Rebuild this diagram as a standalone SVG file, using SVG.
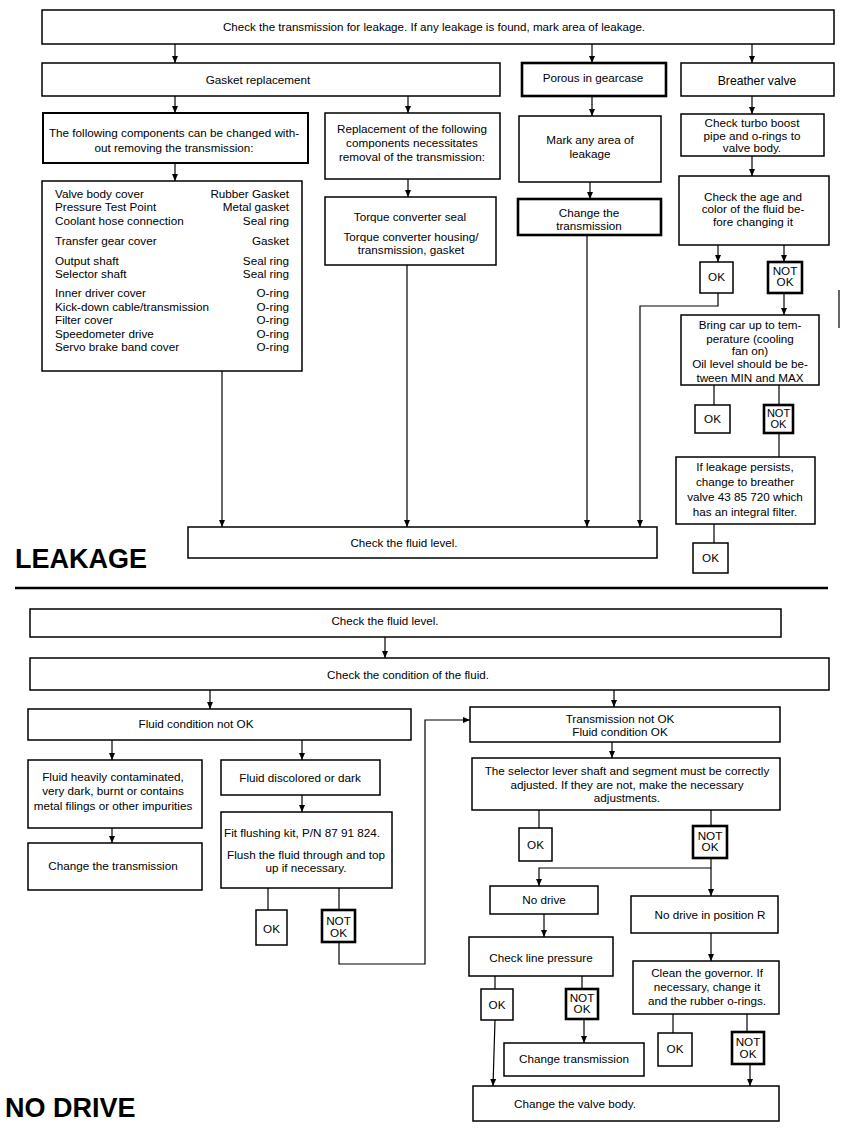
<svg xmlns="http://www.w3.org/2000/svg" width="842" height="1130" viewBox="0 0 842 1130">
<style>
.b{fill:#fff;stroke:#000;stroke-width:1.5}
.k{fill:#fff;stroke:#000;stroke-width:2.6}
text{font-family:"Liberation Sans",Arial,Helvetica,sans-serif;font-size:11.7px;fill:#000;text-anchor:middle}
.s{font-size:11.6px}
.n{font-size:11px}
.l{text-anchor:start}
.r{text-anchor:end}
.h{font-size:27px;font-weight:bold;text-anchor:start}
.c{fill:none;stroke:#000;stroke-width:1.2}
.a{marker-end:url(#ah)}
</style>
<defs>
<marker id="ah" markerWidth="7" markerHeight="7" refX="7" refY="3.5" orient="auto" markerUnits="userSpaceOnUse">
<path d="M0,0.5 L7,3.5 L0,6.5 z" fill="#000"/>
</marker>
</defs>
<rect width="842" height="1130" fill="#fff"/>

<!-- LEAKAGE section -->
<g id="leak-start"><rect class="b" x="42" y="10" width="792" height="34"/><text class="s" x="434" y="31">Check the transmission for leakage. If any leakage is found, mark area of leakage.</text></g>
<g id="gasket"><rect class="b" x="42" y="63" width="458" height="33"/><text x="258" y="84">Gasket replacement</text></g>
<g id="porous"><rect class="k" x="522" y="63" width="144" height="33"/><text x="593" y="82">Porous in gearcase</text></g>
<g id="breather"><rect class="b" x="681" y="63" width="153" height="33"/><text x="757" y="85" style="font-size:12.2px">Breather valve</text></g>
<g id="following"><rect class="b" x="43" y="113" width="265" height="50" style="stroke-width:2"/><text x="174" y="137">The following components can be changed with-</text><text x="174" y="152">out removing the transmission:</text></g>
<g id="list"><rect class="b" x="42" y="181" width="260" height="190"/>
<text class="l" x="55" y="198">Valve body cover</text><text class="r" x="289" y="198">Rubber Gasket</text>
<text class="l" x="55" y="211">Pressure Test Point</text><text class="r" x="289" y="211">Metal gasket</text>
<text class="l" x="55" y="225">Coolant hose connection</text><text class="r" x="289" y="225">Seal ring</text>
<text class="l" x="55" y="245">Transfer gear cover</text><text class="r" x="289" y="245">Gasket</text>
<text class="l" x="55" y="265">Output shaft</text><text class="r" x="289" y="265">Seal ring</text>
<text class="l" x="55" y="278">Selector shaft</text><text class="r" x="289" y="278">Seal ring</text>
<text class="l" x="55" y="297">Inner driver cover</text><text class="r" x="289" y="297">O-ring</text>
<text class="l" x="55" y="311">Kick-down cable/transmission</text><text class="r" x="289" y="311">O-ring</text>
<text class="l" x="55" y="324">Filter cover</text><text class="r" x="289" y="324">O-ring</text>
<text class="l" x="55" y="338">Speedometer drive</text><text class="r" x="289" y="338">O-ring</text>
<text class="l" x="55" y="351">Servo brake band cover</text><text class="r" x="289" y="351">O-ring</text>
</g>
<g id="replacement"><rect class="b" x="325" y="113" width="175" height="66"/><text x="412" y="133">Replacement of the following</text><text x="412" y="147">components necessitates</text><text x="412" y="161">removal of the transmission:</text></g>
<g id="torque"><rect class="b" x="325" y="197" width="171" height="68"/><text x="410" y="221">Torque converter seal</text><text x="411" y="241">Torque converter housing/</text><text x="411" y="254">transmission, gasket</text></g>
<g id="mark"><rect class="b" x="519" y="116" width="142" height="66"/><text x="590" y="144">Mark any area of</text><text x="590" y="158">leakage</text></g>
<g id="change-trans-1"><rect class="k" x="518" y="199" width="143" height="36"/><text x="589" y="217">Change the</text><text x="589" y="230">transmission</text></g>
<g id="turbo"><rect class="b" x="681" y="114" width="143" height="42"/><text x="752" y="127">Check turbo boost</text><text x="752" y="139.5">pipe and o-rings to</text><text x="752" y="152">valve body.</text></g>
<g id="age"><rect class="b" x="679" y="176" width="150" height="69"/><text x="753" y="201">Check the age and</text><text x="753" y="213">color of the fluid be-</text><text x="753" y="226">fore changing it</text></g>
<g id="ok-1"><rect class="b" x="700" y="262" width="33" height="31"/><text x="716.5" y="281">OK</text></g>
<g id="notok-1"><rect class="k" x="768" y="262" width="34" height="31"/><text x="785" y="275">NOT</text><text x="785" y="286">OK</text></g>
<g id="bringcar"><rect class="b" x="681" y="315" width="138" height="70"/><text x="750" y="329">Bring car up to tem-</text><text x="750" y="343">perature (cooling</text><text x="750" y="355">fan on)</text><text x="750" y="368">Oil level should be be-</text><text x="750" y="382">tween MIN and MAX</text></g>
<g id="ok-2"><rect class="b" x="695" y="405" width="35" height="28"/><text x="712.5" y="423">OK</text></g>
<g id="notok-2"><rect class="k" x="764" y="405" width="29" height="28"/><text class="n" x="778.5" y="417">NOT</text><text class="n" x="778.5" y="428">OK</text></g>
<g id="persists"><rect class="b" x="676" y="457" width="139" height="67"/><text x="745" y="471">If leakage persists,</text><text x="745" y="486">change to breather</text><text x="745" y="501">valve 43 85 720 which</text><text x="745" y="516">has an integral filter.</text></g>
<g id="ok-3"><rect class="b" x="693" y="543" width="35" height="30"/><text x="710.5" y="562">OK</text></g>
<g id="fluid-level-1"><rect class="b" x="188" y="527" width="469" height="31"/><text class="s" x="404" y="547">Check the fluid level.</text></g>
<g id="title-leakage"><text class="h" x="15" y="568">LEAKAGE</text></g>
<line x1="15" y1="588" x2="828" y2="588" stroke="#000" stroke-width="2.5"/>
<line x1="839" y1="290" x2="839" y2="328" stroke="#000" stroke-width="1.2"/>

<!-- NO DRIVE section -->
<g id="fluid-level-2"><rect class="b" x="30" y="609" width="751" height="28"/><text class="s" x="385" y="625">Check the fluid level.</text></g>
<g id="condition"><rect class="b" x="30" y="658" width="799" height="32"/><text class="s" x="408" y="679">Check the condition of the fluid.</text></g>
<g id="fluid-notok"><rect class="b" x="28" y="709" width="383" height="31"/><text x="196" y="728">Fluid condition not OK</text></g>
<g id="contaminated"><rect class="b" x="28" y="760" width="174" height="68"/><text x="113" y="781">Fluid heavily contaminated,</text><text x="113" y="795">very dark, burnt or contains</text><text x="113" y="810">metal filings or other impurities</text></g>
<g id="change-trans-2"><rect class="b" x="28" y="843" width="174" height="47"/><text x="113" y="870">Change the transmission</text></g>
<g id="discolored"><rect class="b" x="221" y="760" width="159" height="35"/><text x="300" y="782">Fluid discolored or dark</text></g>
<g id="flushing"><rect class="b" x="221" y="812" width="171" height="76"/><text x="302" y="837">Fit flushing kit, P/N 87 91 824.</text><text x="306" y="859">Flush the fluid through and top</text><text x="306" y="872">up if necessary.</text></g>
<g id="ok-4"><rect class="b" x="256" y="910" width="31" height="35"/><text x="271.5" y="933">OK</text></g>
<g id="notok-4"><rect class="k" x="322" y="910" width="33" height="32"/><text x="338.5" y="925">NOT</text><text x="338.5" y="937">OK</text></g>
<g id="trans-notok"><rect class="b" x="470" y="707" width="310" height="35"/><text x="620" y="723">Transmission not OK</text><text x="620" y="736">Fluid condition OK</text></g>
<g id="selector"><rect class="b" x="472" y="758" width="308" height="52"/><text x="627" y="775">The selector lever shaft and segment must be correctly</text><text x="627" y="789">adjusted. If they are not, make the necessary</text><text x="627" y="802">adjustments.</text></g>
<g id="ok-5"><rect class="b" x="519" y="828" width="33" height="33"/><text x="535.5" y="849">OK</text></g>
<g id="notok-5"><rect class="k" x="693" y="826" width="34" height="32"/><text x="710" y="840">NOT</text><text x="710" y="851">OK</text></g>
<g id="nodrive"><rect class="b" x="490" y="886" width="108" height="28"/><text x="544" y="904">No drive</text></g>
<g id="nodrive-r"><rect class="b" x="631" y="896" width="147" height="37"/><text x="710" y="919">No drive in position R</text></g>
<g id="linepressure"><rect class="b" x="469" y="937" width="144" height="39"/><text x="541" y="962">Check line pressure</text></g>
<g id="governor"><rect class="b" x="633" y="961" width="146" height="53"/><text x="707" y="977">Clean the governor. If</text><text x="707" y="991">necessary, change it</text><text x="707" y="1005">and the rubber o-rings.</text></g>
<g id="ok-6"><rect class="b" x="481" y="989" width="32" height="31"/><text x="497" y="1009">OK</text></g>
<g id="notok-6"><rect class="k" x="566" y="989" width="32" height="30"/><text x="582" y="1002">NOT</text><text x="582" y="1013">OK</text></g>
<g id="change-trans-3"><rect class="b" x="504" y="1043" width="140" height="33"/><text x="574" y="1063">Change transmission</text></g>
<g id="ok-7"><rect class="b" x="658" y="1033" width="34" height="33"/><text x="675" y="1053">OK</text></g>
<g id="notok-7"><rect class="k" x="732" y="1032" width="32" height="32"/><text x="748" y="1046">NOT</text><text x="748" y="1058">OK</text></g>
<g id="valvebody"><rect class="b" x="473" y="1086" width="306" height="35"/><text x="575" y="1108">Change the valve body.</text></g>
<g id="title-nodrive"><text class="h" x="5" y="1117">NO DRIVE</text></g>

<g id="connectors">
<path class="c a" d="M175,44 V63"/>
<path class="c a" d="M592,44 V63"/>
<path class="c a" d="M752,44 V63"/>
<path class="c a" d="M175,96 V113"/>
<path class="c a" d="M408,96 V113"/>
<path class="c a" d="M592,96 V116"/>
<path class="c a" d="M752,96 V114"/>
<path class="c a" d="M175,163 V181"/>
<path class="c a" d="M408,179 V197"/>
<path class="c a" d="M590,182 V199"/>
<path class="c a" d="M752,156 V176"/>
<path class="c a" d="M718,245 V262"/>
<path class="c a" d="M784,245 V262"/>
<path class="c a" d="M784,293 V315"/>
<path class="c a" d="M718,293 V306 H640 V527"/>
<path class="c a" d="M222,371 V527"/>
<path class="c a" d="M407,265 V527"/>
<path class="c a" d="M587,235 V527"/>
<path class="c" d="M714,385 V405"/>
<path class="c" d="M779,385 V405"/>
<path class="c" d="M779,433 V457"/>
<path class="c" d="M714,524 V543"/>

<path class="c a" d="M385,637 V658"/>
<path class="c a" d="M210,690 V709"/>
<path class="c a" d="M614,690 V707"/>
<path class="c a" d="M112,740 V760"/>
<path class="c a" d="M302,740 V760"/>
<path class="c a" d="M112,828 V843"/>
<path class="c a" d="M302,795 V812"/>
<path class="c" d="M268,888 V910"/>
<path class="c" d="M339,888 V910"/>
<path class="c a" d="M339,942 V964 H425 V720 H470"/>
<path class="c a" d="M612,742 V758"/>
<path class="c" d="M539,810 V828"/>
<path class="c" d="M711,810 V826"/>
<path class="c a" d="M711,858 V868 H539 V886"/>
<path class="c a" d="M711,868 V896"/>
<path class="c a" d="M544,914 V937"/>
<path class="c a" d="M711,933 V961"/>
<path class="c" d="M495,976 V989"/>
<path class="c" d="M582,976 V989"/>
<path class="c a" d="M495,1020 L493,1086"/>
<path class="c a" d="M584,1019 V1043"/>
<path class="c" d="M673,1014 V1033"/>
<path class="c" d="M747,1014 V1032"/>
<path class="c a" d="M750,1064 V1086"/>
</g>
</svg>
